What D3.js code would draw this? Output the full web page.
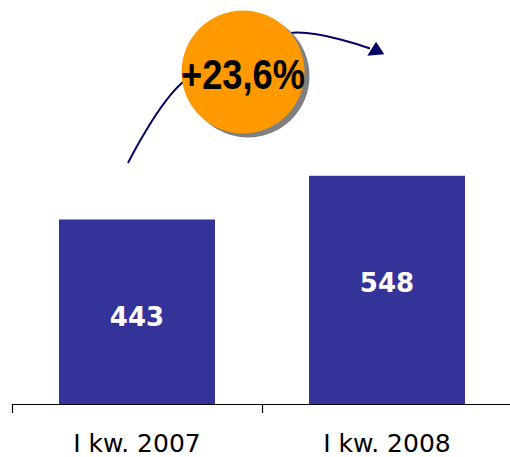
<!DOCTYPE html>
<html><head><meta charset="utf-8">
<script src="https://cdn.jsdelivr.net/npm/d3@7"></script>
<style>html,body{margin:0;padding:0;background:#fff;}svg{display:block;}</style>
</head><body>
<svg id="chart" width="510" height="457"></svg>
<script>
const categories = ["I kw. 2007", "I kw. 2008"];
const values = [443, 548];
const changeLabel = "+23,6%";
const valueLabelDy = [4.7, -7];

const svg = d3.select("#chart");
const baseY = 404;
const x = d3.scaleBand().domain(categories).range([12, 512]).paddingInner(0.376).paddingOuter(0.188);
const y = d3.scaleLinear().domain([0, 970]).range([baseY, 0]);

// bars
svg.selectAll("rect.bar").data(values).join("rect")
  .attr("class", "bar")
  .attr("x", (d, i) => x(categories[i]))
  .attr("width", x.bandwidth())
  .attr("y", d => y(d))
  .attr("height", d => baseY - y(d))
  .attr("fill", "#333399");

// value labels
svg.selectAll("text.val").data(values).join("text")
  .attr("class", "val")
  .attr("x", (d, i) => x(categories[i]) + x.bandwidth() / 2)
  .attr("y", (d, i) => (y(d) + baseY) / 2 + valueLabelDy[i])
  .attr("dy", "0.36em")
  .attr("text-anchor", "middle")
  .attr("fill", "#ffffff")
  .attr("font-family", "'DejaVu Sans', Verdana, sans-serif")
  .attr("font-weight", "bold")
  .attr("font-size", "26px")
  .text(d => d);

// axis
const axisG = svg.append("g");
axisG.append("line").attr("x1", 12).attr("x2", 512).attr("y1", baseY + 0.5).attr("y2", baseY + 0.5)
  .attr("stroke", "#000").attr("stroke-width", 1.2);
const step = x.step();
const tickXs = [12, 12 + step];
axisG.selectAll("line.tick").data(tickXs).join("line")
  .attr("class", "tick")
  .attr("x1", d => d + 0.5).attr("x2", d => d + 0.5)
  .attr("y1", baseY).attr("y2", baseY + 9)
  .attr("stroke", "#000").attr("stroke-width", 1.2);
axisG.selectAll("text.cat").data(categories).join("text")
  .attr("class", "cat")
  .attr("x", d => x(d) + x.bandwidth() / 2)
  .attr("y", 452)
  .attr("text-anchor", "middle")
  .attr("fill", "#000")
  .attr("font-family", "Tahoma, 'DejaVu Sans', sans-serif")
  .attr("font-size", "25px")
  .text(d => d);

// growth arrow (annotation)
const arrowPts = [[128, 163], [183, 82], [290, 33], [370, 48.5]];
svg.append("path")
  .attr("d", d3.line().curve(d3.curveCatmullRom.alpha(0.5))(arrowPts))
  .attr("fill", "none")
  .attr("stroke", "#000066")
  .attr("stroke-width", 2);
svg.append("path")
  .attr("d", "M384.3,54.3 L376,41.7 L367.3,55.7 Z")
  .attr("fill", "#000066");

// circle badge
const cx = 243, cy = 72, r = 61.5;
svg.append("circle").attr("cx", cx + 5).attr("cy", cy + 4).attr("r", r).attr("fill", "#808080");
svg.append("circle").attr("cx", cx).attr("cy", cy).attr("r", r).attr("fill", "#FF9900");
svg.append("text")
  .attr("x", cx).attr("y", 89.3)
  .attr("text-anchor", "middle")
  .attr("font-family", "'Liberation Sans', Arial, sans-serif")
  .attr("font-weight", "bold")
  .attr("font-size", "42px")
  .attr("textLength", 124)
  .attr("lengthAdjust", "spacingAndGlyphs")
  .attr("fill", "#000")
  .text(changeLabel);
</script>
</body></html>
